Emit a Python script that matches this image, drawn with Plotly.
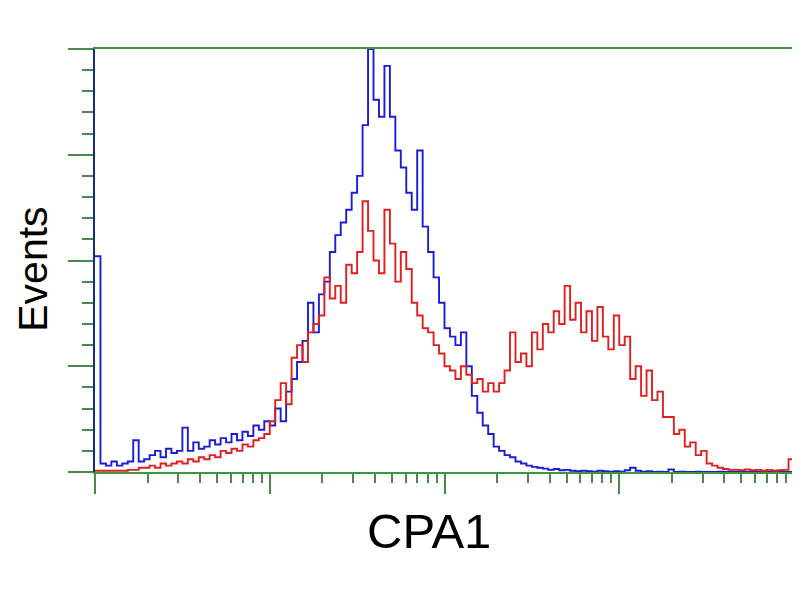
import plotly.graph_objects as go

# channel numbers (128 log-spaced channels over 4 decades)
CHANNEL = list(range(128))
N_DECADES = 4
N_CH = 128

# control (blue) counts, scaled so that 100 = top of the plot
BLUE = [51, 2, 1.5, 2.5, 1.5, 2, 2.5, 7.5, 2.5, 3,
        4, 5, 3.5, 5.5, 4.5, 5, 10.5, 5, 7, 5.5,
        6, 7.5, 6.5, 8, 7, 9, 7.5, 9.5, 8.5, 11,
        10, 12, 11, 15, 12, 19, 22, 26, 31, 40,
        33, 42, 45, 52, 56, 59, 62, 66, 70, 82,
        100, 88, 84, 96, 84, 76, 72, 66, 62, 76,
        58, 52, 46, 40, 34, 32, 30, 33, 25, 18,
        14, 11, 9, 6, 5, 4, 3.5, 2.5, 2, 1.5,
        1.2, 1, 0.8, 0.5, 0.7, 0.4, 0.5, 0.3, 0.2, 0.3,
        0.2, 0.1, 0.3, 0.2, 0.1, 0.2, 0.1, 0.4, 1, 0.3,
        0.1, 0.2, 0, 0.1, 0, 0.6, 0, 0.1, 0, 0,
        0.1, 0, 0, 0, 0.1, 0, 0, 0, 0, 0,
        0, 0, 0, 0, 0, 0, 0, 0]

# CPA1-stained (red) counts
RED = [0.3, 0.3, 0.3, 0.3, 0.3, 0.3, 0.5, 0.5, 1, 1,
       1.5, 1, 2, 1.5, 2, 2.5, 2, 3, 2.5, 3.5,
       3, 4, 3.5, 5, 4.5, 5.5, 5, 6.5, 6, 7.5,
       8, 9, 12, 17, 21, 16, 27, 30, 26, 33,
       35, 37, 46, 41, 44, 40, 49, 47, 52, 64,
       57, 50, 47, 62, 54, 45, 52, 48, 40, 37,
       34, 33, 30, 28, 25, 24, 22, 25, 23, 21,
       22, 19, 21, 19, 21, 24, 33, 26, 28, 25,
       33, 29, 35, 33, 38, 35, 44, 36, 40, 33,
       38, 31, 39, 32, 29, 37, 30, 32, 22, 25,
       18, 24, 17, 19, 13, 13, 9, 10, 6, 7,
       4, 5, 2, 1.5, 1, 0.7, 0.5, 0.5, 0.4, 0.6,
       0.4, 0.5, 0.3, 0.5, 0.3, 0.4, 0.5, 3]

X_MAJOR = [1, 10, 100, 1000, 10000]
X_MINOR = [m * d for d in [1, 10, 100, 1000] for m in range(2, 10)]
Y_MAJOR = [0, 25, 50, 75, 100]
Y_MINOR = list(range(0, 101, 5))

GREEN = "#3a9a3a"
TICK = "#4a8a4a"
NAVY = "#1a2a8a"

# left edges of channels, plus the final right edge
edges = [10 ** (c * N_DECADES / N_CH) for c in CHANNEL] + [10 ** N_DECADES]

fig = go.Figure()
fig.add_trace(go.Scatter(x=edges, y=BLUE + [BLUE[-1]], mode="lines",
                         line=dict(color="#1c1cd8", width=1.9, shape="hv"),
                         showlegend=False))
fig.add_trace(go.Scatter(x=edges, y=RED + [RED[-1]], mode="lines",
                         line=dict(color="#e02020", width=1.9, shape="hv"),
                         showlegend=False))

fig.update_layout(
    width=800, height=600,
    margin=dict(l=87, r=14, t=41, b=136),
    paper_bgcolor="white", plot_bgcolor="white",
    font=dict(family="Liberation Sans, Arial, sans-serif", color="black"),
    xaxis=dict(type="log", range=[0, N_DECADES], showgrid=False, zeroline=False,
               showline=True, linecolor=GREEN, linewidth=2, mirror=True,
               ticks="outside", tickmode="array", tickvals=X_MAJOR,
               ticklen=20, tickwidth=2, tickcolor=TICK,
               showticklabels=False,
               minor=dict(tickmode="array", tickvals=X_MINOR, ticks="outside",
                          ticklen=9, tickwidth=1.5, tickcolor=TICK)),
    yaxis=dict(range=[0, 100], showgrid=False, zeroline=False,
               showline=True, linecolor=NAVY, linewidth=2, mirror=False,
               ticks="outside", tickmode="array", tickvals=Y_MAJOR,
               ticklen=25, tickwidth=2, tickcolor=TICK,
               showticklabels=False,
               minor=dict(tickmode="array", tickvals=Y_MINOR, ticks="outside",
                          ticklen=11, tickwidth=1.5, tickcolor=TICK)),
    shapes=[dict(type="line", xref="paper", yref="paper", x0=1, x1=1, y0=0, y1=1,
                 line=dict(color=GREEN, width=2))],
    annotations=[
        dict(text="CPA1", xref="paper", yref="paper", x=0.478, y=-0.139,
             xanchor="center", yanchor="middle", showarrow=False,
             font=dict(size=49, color="black")),
        dict(text="Events", xref="paper", yref="paper", x=-0.089, y=0.48,
             xanchor="center", yanchor="middle", showarrow=False, textangle=-90,
             font=dict(size=41, color="black")),
    ],
)

fig.write_html("out.html")
